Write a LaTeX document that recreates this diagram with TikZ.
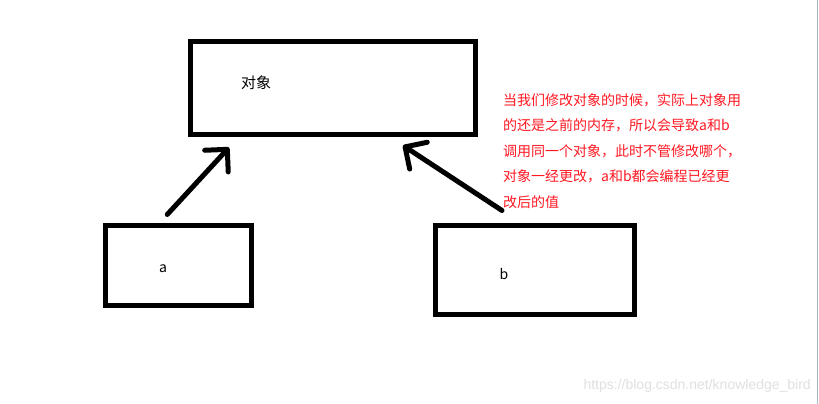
\documentclass[tikz,border=0pt]{standalone}
\usepackage{fontspec}
\newfontfamily\cjk{Noto Sans CJK SC}
\newfontfamily\wmfont{Liberation Sans}
\usetikzlibrary{arrows.meta}
\definecolor{notered}{RGB}{255,25,35}
\definecolor{wmgray}{RGB}{224,224,224}
\definecolor{edgeline}{RGB}{165,182,200}

\begin{document}
\begin{tikzpicture}[x=1pt, y=-1pt,
		every node/.style={font=\cjk, inner sep=0pt},
		box/.style={draw, line width=5pt},
		ptr/.style={line width=5pt, line cap=round,
			-{Straight Barb[length=16pt, width=32pt, round]}}]
	\fill[white] (0,0) rectangle (819,404);
	\useasboundingbox (0,0) rectangle (819,404);
	% the object and the two references
	\node[box, minimum width=285pt, minimum height=92pt] (obj) at (332.5,88) {};
	\node[box, minimum width=146.5pt, minimum height=79.5pt] (a) at (178.25,265.25) {};
	\node[box, minimum width=199.5pt, minimum height=89.5pt] (b) at (534.75,269.75) {};
	\node[font=\cjk\fontsize{15}{15}\selectfont] (objtext) at (256,83) {对象};
	\node[font=\cjk\fontsize{14}{14}\selectfont] (atext) at (163,269) {a};
	\node[font=\cjk\fontsize{14}{14}\selectfont] (btext) at (504,274) {b};
	% references point to the object
	\draw[ptr] ([shift={(-11,-8.5)}]a.north) -- ([shift={(-103.5,11)}]obj.south);
	\draw[ptr] ([shift={(-32.75,-12)}]b.north) -- ([shift={(70.5,9)}]obj.south);
	% note
	\node[anchor=north west, align=left, text=notered,
		font=\cjk\fontsize{14}{25.5}\selectfont] (note) at (503,93)
		{当我们修改对象的时候，实际上对象用\\
		的还是之前的内存，所以会导致a和b\\
		调用同一个对象，此时不管修改哪个，\\
		对象一经更改，a和b都会编程已经更\\
		改后的值};
	\node[anchor=mid east, text=wmgray, font=\wmfont\fontsize{14}{14}\selectfont] (mark) at (811,387)
		{https://blog.csdn.net/knowledge\_bird};
	\draw[edgeline, line width=1pt] (817.5,0) -- (817.5,404);
\end{tikzpicture}
\end{document}
